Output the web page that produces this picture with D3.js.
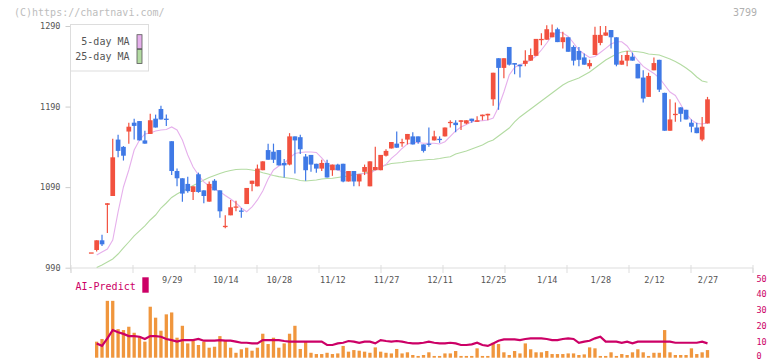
<!DOCTYPE html>
<html><head><meta charset="utf-8">
<script src="https://cdn.jsdelivr.net/npm/d3@7"></script>
<style>
html,body{margin:0;padding:0;background:#fff;}
svg{display:block;font-family:"DejaVu Sans Mono",monospace;}
</style></head>
<body><svg id="c" width="772" height="361"></svg>
<script>
// ---- data ----
const dates = ["9/4","9/5","9/8","9/9","9/10","9/11","9/12","9/16","9/17","9/18","9/19","9/22","9/24","9/25","9/26","9/29","9/30",
"10/1","10/2","10/3","10/6","10/7","10/8","10/9","10/10","10/14","10/15","10/16","10/17","10/20","10/21","10/22","10/23","10/24","10/27","10/28","10/29","10/30","10/31",
"11/4","11/5","11/6","11/7","11/10","11/11","11/12","11/13","11/14","11/17","11/18","11/19","11/20","11/21","11/25","11/26","11/27","11/28",
"12/1","12/2","12/3","12/4","12/5","12/8","12/9","12/10","12/11","12/12","12/15","12/16","12/17","12/18","12/19","12/22","12/23","12/24","12/25","12/26","12/29","12/30",
"1/5","1/6","1/7","1/8","1/9","1/13","1/14","1/15","1/16","1/19","1/20","1/21","1/22","1/23","1/26","1/27","1/28","1/29","1/30",
"2/2","2/3","2/4","2/5","2/6","2/9","2/10","2/12","2/13","2/16","2/17","2/18","2/19","2/20","2/24","2/25","2/26","2/27"];
const tickLabels = ["9/29","10/14","10/28","11/12","11/27","12/11","12/25","1/14","1/28","2/12","2/27"];
const priceTicks = [990,1090,1190,1290];
const volTicks = [0,10,20,30,40,50];

const open = [1009,1012,1024,1068,1079,1149,1140,1159,1170,1172,
1148,1156,1175,1187,1175,1147,1110,1101,1094,1084,
1106,1086,1072,1098,1086,1041,1055,1065,1061,1069,
1094,1091,1111,1136,1134,1136,1120,1118,1153,1152,
1128,1130,1119,1113,1120,1111,1118,1119,1097,1110,
1097,1109,1091,1111,1111,1129,1138,1144,1145,1149,
1153,1153,1143,1144,1148,1150,1153,1170,1170,1171,
1169,1175,1171,1178,1179,1199,1250,1238,1264,1244,
1242,1243,1247,1253,1273,1273,1276,1286,1270,1276,
1264,1259,1251,1240,1254,1269,1278,1285,1276,1242,
1247,1252,1243,1226,1202,1235,1248,1207,1160,1180,
1189,1186,1170,1164,1149,1169];
const high = [1009,1024,1031,1070,1150,1155,1141,1170,1175,1172,
1160,1181,1180,1191,1180,1147,1113,1101,1103,1091,
1108,1086,1097,1100,1086,1055,1074,1073,1064,1089,
1098,1118,1122,1144,1144,1136,1125,1157,1153,1155,
1131,1130,1119,1124,1124,1118,1119,1119,1110,1110,
1106,1118,1122,1140,1130,1137,1146,1159,1150,1156,
1158,1153,1143,1164,1160,1153,1164,1173,1173,1173,
1173,1175,1178,1180,1181,1232,1250,1250,1264,1244,
1242,1260,1262,1274,1281,1291,1292,1288,1283,1276,
1266,1264,1256,1248,1289,1290,1290,1285,1276,1254,
1259,1257,1243,1235,1232,1251,1248,1207,1199,1195,
1189,1186,1174,1170,1177,1202];
const low = [1009,1010,1017,1033,1079,1127,1123,1144,1149,1148,
1144,1156,1164,1174,1166,1105,1091,1072,1083,1074,
1083,1070,1072,1086,1052,1039,1055,1060,1052,1069,
1085,1091,1111,1124,1120,1117,1102,1117,1107,1131,
1098,1109,1108,1110,1102,1104,1111,1096,1097,1091,
1091,1105,1091,1111,1111,1128,1138,1139,1140,1143,
1143,1144,1133,1140,1148,1145,1153,1164,1158,1161,
1168,1170,1171,1173,1173,1191,1186,1225,1241,1230,
1226,1240,1247,1253,1266,1273,1276,1270,1262,1258,
1241,1240,1242,1237,1254,1266,1278,1262,1240,1242,
1240,1247,1225,1195,1202,1235,1208,1160,1160,1171,
1171,1174,1158,1157,1147,1169];
const close = [1009,1024,1019,1070,1127,1135,1129,1165,1166,1148,
1144,1173,1164,1174,1174,1110,1101,1082,1085,1091,
1084,1079,1094,1086,1060,1042,1065,1066,1060,1089,
1098,1113,1122,1124,1124,1117,1117,1153,1148,1137,
1111,1118,1113,1120,1102,1118,1111,1097,1110,1097,
1106,1115,1122,1115,1130,1135,1146,1139,1146,1156,
1143,1146,1135,1143,1153,1149,1164,1171,1167,1173,
1173,1172,1173,1180,1181,1232,1238,1250,1242,1242,
1240,1247,1254,1274,1274,1286,1282,1270,1276,1258,
1247,1248,1242,1244,1279,1279,1282,1276,1242,1247,
1254,1247,1225,1200,1228,1244,1211,1160,1174,1181,
1181,1174,1165,1157,1165,1199];
const ma5 = [null,1005.8,1009.5,1013.2,1024.4,1059.2,1090.2,1111.3,1136.1,1148.5,
1156,1157.2,1159.7,1160.9,1161.6,1164.7,1160.9,1148.5,1129.9,1115,
1105.1,1096.4,1091.4,1087.7,1084.4,1079.6,1075.3,1070.3,1064.1,1059.5,
1065.4,1074.1,1085.2,1100.1,1111.3,1116.3,1119.4,1126.2,1131.8,1133,
1133.6,1133.6,1133,1126.2,1118.7,1113.8,1111.3,1108.8,1107,1105.1,
1106.3,1107,1107,1111.3,1115,1118.1,1125.6,1131.2,1138,1143.6,
1145.4,1145.4,1144.4,1144.4,1144.4,1143.6,1146.4,1152.9,1159.7,1164.7,
1167.8,1171.2,1172.1,1172.5,1173.4,1175.8,1189.5,1208.1,1229.2,1238.5,
1242.2,1244.1,1247.8,1252.8,1260.2,1268.9,1278.2,1282.6,1281.3,1277,
1268.9,1260.2,1255.3,1250.9,1252.2,1257.1,1262.3,1267.7,1270.5,1270.5,
1265.2,1255.9,1247.2,1239.8,1235.4,1231.1,1225.5,1216.8,1208.1,1203.8,
1192.6,1180.8,1173.4,1169,1168.4,1170];
const ma25 = [null,990.3,993.4,997.1,1000.8,1007,1014.5,1021.9,1029.4,1035.6,
1041.8,1049.2,1055.4,1064.1,1070.3,1077.2,1081.5,1085.2,1088.3,1092.1,
1095.2,1098.9,1102,1104.5,1107,1109.2,1110.7,1111.9,1112.2,1112.2,
1111.3,1110.1,1107.9,1106.3,1104.5,1103,1102,1101,1100.1,1098.3,
1097.6,1098.3,1098.9,1100.1,1100.7,1101,1102,1103,1103.8,1105.1,
1106.3,1107.6,1109.2,1111.9,1115,1117.5,1119.4,1120,1120.6,1121.8,
1122.5,1123.1,1123.7,1124.3,1124.6,1125.6,1126.8,1127.8,1131.2,1133,
1134.9,1137.4,1139.8,1142.3,1146,1148.5,1153.5,1158.5,1163.4,1170.9,
1177.1,1182,1187,1192,1196.9,1201.9,1206.9,1211.8,1216.8,1220.5,
1223,1225.5,1229.2,1232.9,1237.9,1242.9,1247.8,1251.6,1255.3,1257.8,
1259,1258.6,1258.1,1257.1,1255.3,1254.7,1254,1251.6,1249.1,1246,
1242.2,1237.9,1232.9,1226.7,1221.8,1220.1];
const volume = [0,10.1,11.8,35.8,35.8,18,17.4,19.5,15.7,13.6,
10.1,32.1,25.2,17,27.3,28.5,12.6,20.1,9,10.5,
8,10.1,6.3,6.9,13.6,11.1,6.3,3.1,5.3,6.3,
4.4,6.3,15.1,8.6,12.6,6.3,9,15.1,20.1,5.5,
10.5,3.1,2.3,2.3,3.1,2.3,2.7,7.4,3.8,4.8,
4.4,3.8,3.1,6.5,3.8,3.1,2.7,5.5,2.7,3.4,
1.7,1.1,1.7,3.4,1.1,1.1,2.7,2.7,4.2,1.1,
1.1,1.1,5.9,1.1,1.1,9.5,8.6,3.4,1.7,4.2,
2.7,9.0,5.3,3.4,3.4,4.2,2.3,2.3,2.3,2.7,
2.7,1.7,2.1,6.5,5.9,1.1,1.1,3.4,1.1,2.3,
1.7,3.4,5.3,3.4,1.1,3.1,3.1,17.4,3.4,1.7,
1.7,1.7,5.9,2.3,3.4,4.8];
const aiPredict = [null,9.0,7.5,12.2,17.4,16.0,15.0,13.6,13.6,13.2,
11.8,13.6,13.6,13.2,11.8,11.1,10.1,11.1,11.1,11.1,
11.8,10.7,10.7,10.7,11.1,10.7,10.7,10.1,9.4,9.4,
9.0,9.0,11.1,11.1,11.1,11.1,10.5,10.1,10.1,10.1,
10.1,10.1,10.1,10.1,8.0,8.0,9.0,9.4,10.5,10.1,
9.4,10.1,10.1,9.0,11.1,10.5,10.1,10.5,10.1,9.4,
9.0,9.0,9.4,10.1,9.4,9.0,9.0,9.4,9.0,8.0,
8.0,8.4,9.4,8.0,7.4,9.0,10.7,11.5,11.5,11.5,
11.1,11.8,12.2,12.2,12.2,11.8,11.1,11.1,11.8,12.2,
11.8,9.4,10.1,10.7,12.2,13.2,10.1,10.1,10.1,9.4,
10.1,9.0,10.1,10.1,10.1,10.1,10.1,10.1,10.1,9.4,
9.4,9.4,9.4,9.4,10.1,9.0];

// ---- styles ----
const UP = "#f2513f", DOWN = "#3f79e6", MA5C = "#e6b0ec", MA25C = "#b3dba2",
      VOLC = "#f0963d", AIC = "#cc0066", AXC = "#dddddd", TXT = "#555";

const svg = d3.select("#c");
const candles = dates.map((d,i)=>({d, o:open[i], h:high[i], l:low[i], c:close[i], m5:ma5[i], m25:ma25[i], v:volume[i], ai:aiPredict[i]}));

const x = d3.scalePoint().domain(dates).range([91.3, 707.5]);
const y = d3.scaleLinear().domain([990,1290]).range([267.7, 26]);
const vy = d3.scaleLinear().domain([0,50]).range([357.7, 278.3]);
const frame = d3.scaleLinear().domain([0,11]).range([70.5, 752.5]);

// header
svg.append("text").attr("x",14).attr("y",12.5).attr("dy","0.35em").attr("font-size",10).attr("fill","#bdbdbd").text("(C)https://chartnavi.com/");
svg.append("text").attr("x",757).attr("y",12.5).attr("dy","0.35em").attr("text-anchor","end").attr("font-size",10).attr("fill","#b0b0b0").text("3799");

// frame axes
svg.append("line").attr("x1",70.5).attr("x2",70.5).attr("y1",24).attr("y2",270.5).attr("stroke",AXC);
const xb = svg.append("g").attr("transform","translate(0,267.5)")
  .call(d3.axisBottom(frame).tickValues(d3.range(0,12)).tickSize(5.5).tickFormat(""));
xb.select(".domain").attr("stroke",AXC);
xb.selectAll(".tick line").attr("stroke",AXC).attr("y1",-2.5);

const yAx = svg.append("g").attr("transform","translate(70.5,0)")
  .call(d3.axisLeft(y).tickValues(priceTicks).tickFormat(d3.format("d")).tickSize(5).tickSizeOuter(0).tickPadding(5));
yAx.select(".domain").remove();
yAx.selectAll(".tick line").attr("stroke","#cccccc");
yAx.selectAll("text").attr("fill",TXT).attr("font-size",8.5).attr("font-family","DejaVu Sans Mono");

const xl = svg.append("g").attr("transform","translate(0,268)")
  .call(d3.axisBottom(x).tickValues(tickLabels).tickSize(0).tickPadding(9));
xl.select(".domain").remove();
xl.selectAll("text").attr("fill",TXT).attr("font-size",8.5).attr("font-family","DejaVu Sans Mono");

// MA lines
const lineGen = key => d3.line().defined(d=>d[key]!=null).x(d=>x(d.d)).y(d=>y(d[key]));
svg.append("path").datum(candles).attr("d",lineGen("m25")).attr("fill","none").attr("stroke",MA25C).attr("stroke-width",1.1);
svg.append("path").datum(candles).attr("d",lineGen("m5")).attr("fill","none").attr("stroke",MA5C).attr("stroke-width",1.1);

// candles
const cg = svg.append("g");
const bw = 4.7;
cg.selectAll("line.w").data(candles).join("line").attr("class","w")
  .attr("x1",d=>x(d.d)).attr("x2",d=>x(d.d))
  .attr("y1",d=>y(d.h)).attr("y2",d=>y(d.l))
  .attr("stroke",d=>d.c>=d.o?UP:DOWN).attr("stroke-width",1.2);
cg.selectAll("rect.b").data(candles).join("rect").attr("class","b")
  .attr("x",d=>x(d.d)-bw/2).attr("width",bw)
  .attr("y",d=>y(Math.max(d.o,d.c)))
  .attr("height",d=>Math.max(1.3, y(Math.min(d.o,d.c))-y(Math.max(d.o,d.c))))
  .attr("fill",d=>d.c>=d.o?UP:DOWN);

// legend
svg.append("rect").attr("x",70.5).attr("y",24.5).attr("width",78).attr("height",46.5).attr("fill","#fff").attr("stroke",AXC);
const leg = [{t:"5-day MA",c:MA5C,cy:41.7},{t:"25-day MA",c:MA25C,cy:56.5}];
leg.forEach(l=>{
  svg.append("text").attr("x",129.5).attr("y",l.cy).attr("dy","0.35em").attr("text-anchor","end")
    .attr("font-size",10).attr("fill",TXT).text(l.t);
  svg.append("rect").attr("x",137).attr("y",l.cy-7).attr("width",5).attr("height",14)
    .attr("fill",l.c).attr("stroke","#555").attr("stroke-width",0.8);
});

// volume panel
svg.append("g").selectAll("rect").data(candles.filter(d=>d.v>0)).join("rect")
  .attr("x",d=>x(d.d)-1.65).attr("width",3.3)
  .attr("y",d=>vy(d.v)).attr("height",d=>vy(0)-vy(d.v)).attr("fill",VOLC);
svg.append("path").datum(candles).attr("d",d3.line().defined(d=>d.ai!=null).x(d=>x(d.d)).y(d=>vy(d.ai)))
  .attr("fill","none").attr("stroke",AIC).attr("stroke-width",2.2);

const ra = svg.append("g").attr("transform","translate(752,0)")
  .call(d3.axisRight(vy).tickValues(volTicks).tickSize(0).tickPadding(4.5));
ra.select(".domain").remove();
ra.selectAll("text").attr("fill",AIC).attr("font-size",8.5).attr("font-family","DejaVu Sans Mono");
ra.selectAll(".tick").filter(d=>d===0).select("text").attr("dy","0.1em");

svg.append("text").attr("x",75.5).attr("y",286).attr("dy","0.35em").attr("font-size",10).attr("fill",AIC).text("AI-Predict");
svg.append("rect").attr("x",142.3).attr("y",277.3).attr("width",6.4).attr("height",15.4).attr("fill",AIC);
</script></body></html>
